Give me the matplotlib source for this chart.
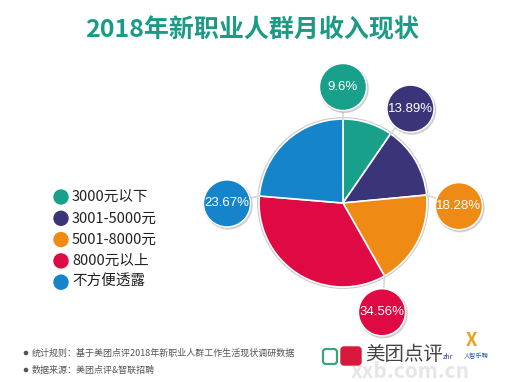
import numpy as np
import matplotlib.pyplot as plt
from matplotlib.patches import Circle, FancyBboxPatch

plt.rcParams['font.family'] = ['Noto Sans CJK SC', 'DejaVu Sans']

title = '2018年新职业人群月收入现状'
categories = ['3000元以下', '3001-5000元', '5001-8000元', '8000元以上', '不方便透露']
values = [9.6, 13.89, 18.28, 34.56, 23.67]
labels = ['9.6%', '13.89%', '18.28%', '34.56%', '23.67%']
colors = ['#18a08a', '#3a3479', '#ef8b14', '#df0a44', '#1584cb']
notes = ['统计规则：基于美团点评2018年新职业人群工作生活现状调研数据',
         '数据来源：美团点评&智联招聘']

W, H = 510, 382
fig = plt.figure(figsize=(W / 100, H / 100), dpi=100)
ax = fig.add_axes([0, 0, 1, 1])

cx, cy, r = 343, H - 203, 84

# pie with faint grey rim
ax.add_patch(Circle((cx, cy), r + 1.2, color='#c9c9c9', zorder=1))
wedges, _ = ax.pie(values, colors=colors, startangle=90, counterclock=False,
                   center=(cx, cy), radius=r, frame=True,
                   wedgeprops=dict(edgecolor='white', linewidth=1.2, zorder=2))
ax.set_xlim(0, W)
ax.set_ylim(0, H)
ax.set_aspect('equal')
ax.axis('off')

# title
ax.text(252, H - 30, title, color='#1b9b85', fontsize=18, fontweight='black',
        ha='center', va='center')

# bubbles sit at the start edge of each wedge
offsets = [0, -1, -7, -10, 5]
dist = 116
for w, lab, col, off in zip(wedges, labels, colors, offsets):
    a = np.deg2rad(w.theta2 + off)
    edge = np.deg2rad(w.theta2)
    bx, by = cx + dist * np.cos(a), cy + dist * np.sin(a)
    ex, ey = cx + r * np.cos(edge), cy + r * np.sin(edge)
    ax.plot([ex, bx], [ey, by], color='#d8d8d8', lw=1.2, zorder=3)
    ax.add_patch(Circle((bx + 1.2, by - 1.5), 24, color='#9a9a9a', alpha=0.35, zorder=4))
    ax.add_patch(Circle((bx, by), 23.5, facecolor=col, edgecolor='white', lw=1, zorder=5))
    ax.text(bx, by, lab, color='white', fontsize=9.5, family='Liberation Sans',
            ha='center', va='center', zorder=6)

# legend
for i, (cat, col) in enumerate(zip(categories, colors)):
    y = H - (197 + i * 21.3)
    ax.add_patch(Circle((61, y), 7, color=col, zorder=3))
    ax.text(72, y, cat, fontsize=10.5, color='#222222', ha='left', va='center')

# footnotes
for i, note in enumerate(notes):
    y = H - (353 + i * 17)
    ax.add_patch(Circle((26, y), 1.6, color='#555555'))
    ax.text(32, y, note, fontsize=6.5, color='#555555', ha='left', va='center')

# logos / watermark
ax.text(410, H - 372, 'xxb.com.cn', fontsize=15, color='#e4e4e4', fontweight='bold',
        ha='center', va='center', alpha=0.9, zorder=1)
ax.add_patch(FancyBboxPatch((323, H - 364), 14, 15, boxstyle='round,pad=0,rounding_size=3',
                            facecolor='white', edgecolor='#3aa57a', lw=1.6, zorder=2))
ax.add_patch(FancyBboxPatch((341, H - 365), 20, 18, boxstyle='round,pad=0,rounding_size=3',
                            color='#d8183a', zorder=2))
ax.text(365, H - 354, '美团点评', fontsize=14, color='#444444', ha='left', va='center', zorder=3)
ax.text(443, H - 357, 'zhr', fontsize=5, color='#1a3c9a', style='italic', ha='left', va='center')
ax.text(471, H - 340, 'X', fontsize=13, color='#e8a21a', fontweight='bold', ha='center', va='center')
ax.text(476, H - 356, '人智乐聘', fontsize=4.5, color='#2b5aa8', ha='center', va='center')

fig.savefig('out.png', dpi=100)
